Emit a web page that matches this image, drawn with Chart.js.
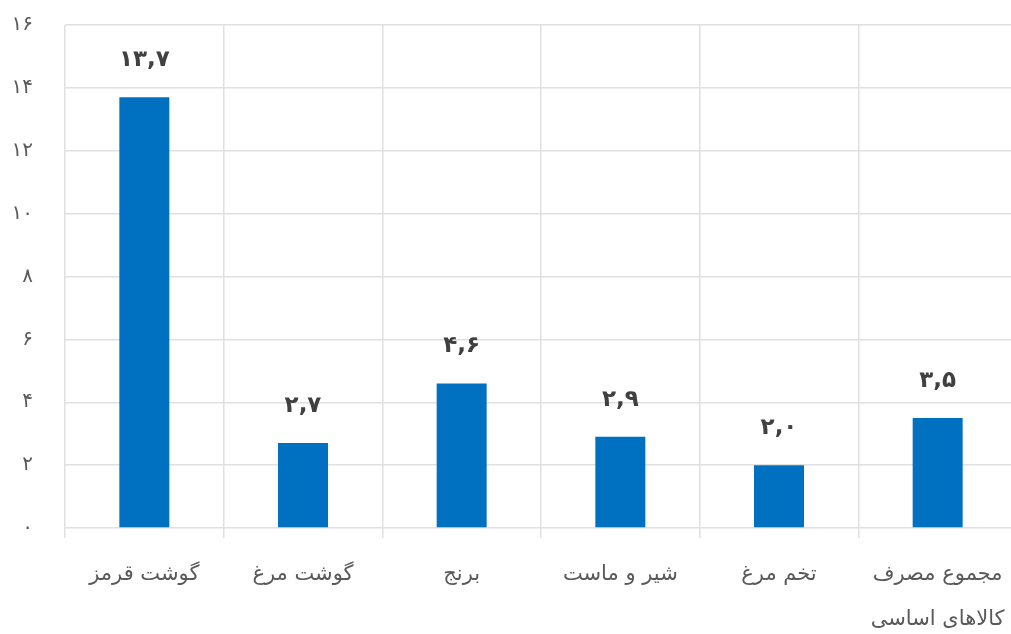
<!DOCTYPE html>
<html><head><meta charset="utf-8">
<script src="https://cdn.jsdelivr.net/npm/chart.js@4"></script>
<style>
html,body{margin:0;padding:0;background:#fff;overflow:hidden;}
#wrap{position:relative;width:1020px;height:634px;}
</style></head>
<body><div id="wrap"><canvas id="c"></canvas></div>
<script>
const categories = ['گوشت قرمز','گوشت مرغ','برنج','شیر و ماست','تخم مرغ',['مجموع مصرف','کالاهای اساسی']];
const values = [13.7, 2.7, 4.6, 2.9, 2.0, 3.5];
const valueLabels = ['۱۳,۷','۲,۷','۴,۶','۲,۹','۲,۰','۳,۵'];
const yTickLabels = ['۰','۲','۴','۶','۸','۱۰','۱۲','۱۴','۱۶'];

const FONT = "'DejaVu Sans', sans-serif";

const labelPlugin = {
  id: 'valLabels',
  afterDatasetsDraw(chart) {
    const ctx = chart.ctx;
    const meta = chart.getDatasetMeta(0);
    ctx.save();
    ctx.font = 'bold 23px ' + FONT;
    ctx.fillStyle = '#404040';
    ctx.textAlign = 'center';
    ctx.textBaseline = 'middle';
    meta.data.forEach((bar, i) => {
      ctx.fillText(valueLabels[i], bar.x, bar.y - 37);
    });
    ctx.restore();
  }
};

new Chart(document.getElementById('c'), {
  type: 'bar',
  data: {
    labels: categories,
    datasets: [{
      data: values,
      backgroundColor: '#0070C0',
      borderWidth: 0,
      barPercentage: 0.63,
      categoryPercentage: 0.5
    }]
  },
  options: {
    responsive: true,
    maintainAspectRatio: false,
    animation: false,
    layout: { padding: { top: 25, right: 3, left: 0, bottom: 0 } },
    plugins: { legend: { display: false }, tooltip: { enabled: false } },
    scales: {
      x: {
        afterFit(scale) { scale.height = 106; },
        grid: { offset: true, color: '#e0e0e0', lineWidth: 1.5, tickLength: 10, drawTicks: true },
        border: { display: false },
        ticks: {
          autoSkip: false, maxRotation: 0, minRotation: 0,
          padding: 14,
          color: '#595959',
          font: { family: FONT, size: 21, lineHeight: '45px' }
        }
      },
      y: {
        min: 0, max: 16,
        afterFit(scale) { scale.width = 65; scale.paddingTop = 0; scale.paddingBottom = 0; },
        grid: { color: '#e0e0e0', lineWidth: 1.5, drawTicks: false },
        border: { display: false },
        ticks: {
          stepSize: 2,
          padding: 32,
          color: '#595959',
          font: { family: FONT, size: 20 },
          callback: (v) => yTickLabels[v / 2]
        }
      }
    }
  },
  plugins: [labelPlugin]
});
</script></body></html>
